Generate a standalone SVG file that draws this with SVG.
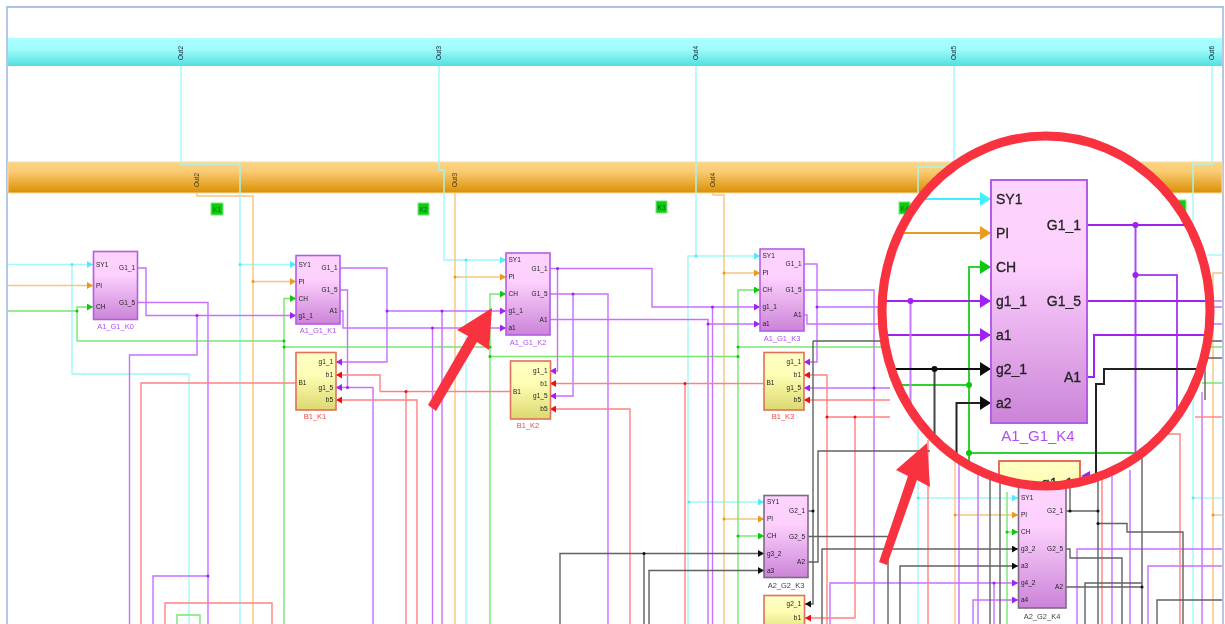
<svg xmlns="http://www.w3.org/2000/svg" width="1225" height="624" viewBox="0 0 1225 624">
<style>
text{font-family:"Liberation Sans",Arial,sans-serif;fill:#222}
#connectors path,.l{fill:none;stroke-width:1.4}
.c{stroke:#a0f8fa}.o{stroke:#f5c67e}.g{stroke:#78e670}.p{stroke:#c670ff}.r{stroke:#ff8282}.k{stroke:#626262}
.dc{fill:#50eaff}.do{fill:#e89a20}.dg{fill:#10c810}.dp{fill:#a020f0}.dr{fill:#f01010}.dk{fill:#111}
.box{fill:url(#pink);stroke:#b45ce6;stroke-width:1.6}
.box2{fill:url(#pink);stroke:#7d6a88;stroke-width:1.6}
.ybox{fill:url(#yel);stroke:#e2705c;stroke-width:1.6}
.t{font-size:6.500px}.e{font-size:6.500px;text-anchor:end}
.nl{font-size:7.500px;text-anchor:middle;fill:#b44cf0}.nr{font-size:7.500px;text-anchor:middle;fill:#f04848}.nk{font-size:7.500px;text-anchor:middle;fill:#444}
.out{font-size:6.500px;text-anchor:middle;fill:#123}
.badge{fill:#0ccc0c;stroke:#7fe87f;stroke-width:1}
.big{font-size:14px;fill:#222;stroke:#222;stroke-width:.3}.bige{font-size:14px;fill:#222;stroke:#222;stroke-width:.3;text-anchor:end}
.L{fill:none;stroke-width:2}
</style>
<defs>
<linearGradient id="cy" x1="0" y1="0" x2="0" y2="1"><stop offset="0" stop-color="#abffff"/><stop offset="0.4" stop-color="#a0fbfb"/><stop offset="1" stop-color="#54dedf"/></linearGradient>
<linearGradient id="or" x1="0" y1="0" x2="0" y2="1"><stop offset="0" stop-color="#fcd584"/><stop offset="0.3" stop-color="#fbcb74"/><stop offset="1" stop-color="#d98f02"/></linearGradient>
<linearGradient id="pink" x1="0" y1="0" x2="0" y2="1"><stop offset="0" stop-color="#fdd4fd"/><stop offset="0.35" stop-color="#fdd0fd"/><stop offset="1" stop-color="#cb84d8"/></linearGradient>
<linearGradient id="yel" x1="0" y1="0" x2="0" y2="1"><stop offset="0" stop-color="#ffffc4"/><stop offset="0.4" stop-color="#fdfdb4"/><stop offset="1" stop-color="#dcd870"/></linearGradient>
<filter id="soft" x="-2%" y="-2%" width="104%" height="104%"><feGaussianBlur stdDeviation="0.55"/></filter>
<clipPath id="lens"><ellipse cx="1046" cy="311" rx="164" ry="175"/></clipPath>
<marker id="ac" markerUnits="userSpaceOnUse" markerWidth="7" markerHeight="7" refX="6" refY="3.5" orient="auto"><path d="M0 0L6 3.5L0 7Z" class="dc"/></marker>
<marker id="ao" markerUnits="userSpaceOnUse" markerWidth="7" markerHeight="7" refX="6" refY="3.5" orient="auto"><path d="M0 0L6 3.5L0 7Z" class="do"/></marker>
<marker id="ag" markerUnits="userSpaceOnUse" markerWidth="7" markerHeight="7" refX="6" refY="3.5" orient="auto"><path d="M0 0L6 3.5L0 7Z" class="dg"/></marker>
<marker id="ap" markerUnits="userSpaceOnUse" markerWidth="7" markerHeight="7" refX="6" refY="3.5" orient="auto"><path d="M0 0L6 3.5L0 7Z" class="dp"/></marker>
<marker id="ar" markerUnits="userSpaceOnUse" markerWidth="7" markerHeight="7" refX="6" refY="3.5" orient="auto"><path d="M0 0L6 3.5L0 7Z" class="dr"/></marker>
<marker id="ak" markerUnits="userSpaceOnUse" markerWidth="7" markerHeight="7" refX="6" refY="3.5" orient="auto"><path d="M0 0L6 3.5L0 7Z" class="dk"/></marker>
<marker id="Ac" markerUnits="userSpaceOnUse" markerWidth="12" markerHeight="14" refX="11" refY="7" orient="auto"><path d="M0 0L11 7L0 14Z" fill="#40f0ff"/></marker>
<marker id="Ao" markerUnits="userSpaceOnUse" markerWidth="12" markerHeight="14" refX="11" refY="7" orient="auto"><path d="M0 0L11 7L0 14Z" fill="#e89a20"/></marker>
<marker id="Ag" markerUnits="userSpaceOnUse" markerWidth="12" markerHeight="14" refX="11" refY="7" orient="auto"><path d="M0 0L11 7L0 14Z" fill="#10c810"/></marker>
<marker id="Ap" markerUnits="userSpaceOnUse" markerWidth="12" markerHeight="14" refX="11" refY="7" orient="auto"><path d="M0 0L11 7L0 14Z" fill="#a020f0"/></marker>
<marker id="Ak" markerUnits="userSpaceOnUse" markerWidth="12" markerHeight="14" refX="11" refY="7" orient="auto"><path d="M0 0L11 7L0 14Z" fill="#111"/></marker>
</defs>
<rect width="1225" height="624" fill="#fff"/>
<g filter="url(#soft)">
<g id="frame">
<path d="M7 624V7H1223V624" fill="none" stroke="#a9c3e4" stroke-width="1.8"/>
</g>
<g id="bus-cyan">
<rect x="8" y="38" width="1214" height="28" fill="url(#cy)"/>
</g>
<g id="bus-orange">
<rect x="8" y="162" width="1214" height="31" fill="url(#or)" stroke="#f8dca8" stroke-width="1"/>
</g>
<g id="connectors">
<path class="c" d="M181 66V164H240V624"/>
<path class="c" d="M439 66V170H444V260H466"/>
<path class="c" d="M466 260V624"/>
<path class="c" d="M696 66V256H688V624"/>
<path class="c" d="M954 66V170"/>
<path class="c" d="M945 167H918V624"/>
<path class="c" d="M1212 66V164H1193V624"/>
<path class="c" d="M1207 255H1222"/>
<path class="c" d="M72 264.500V374H189V624"/>
<path class="c" d="M8 264.500H93" marker-end="url(#ac)"/>
<path class="c" d="M240 264.500H296" marker-end="url(#ac)"/>
<path class="c" d="M466 260H506" marker-end="url(#ac)"/>
<path class="c" d="M696 256H760" marker-end="url(#ac)"/>
<path class="c" d="M689 502H764" marker-end="url(#ac)"/>
<path class="c" d="M918 498H1018" marker-end="url(#ac)"/>
<path class="c" d="M1193 498H1222"/>
<path class="o" d="M197 193V196H253V624"/>
<path class="o" d="M455 193V624"/>
<path class="o" d="M713 193V195H724V624"/>
<path class="o" d="M955 440V624"/>
<path class="o" d="M1222 273H1213V624"/>
<path class="o" d="M8 285.500H93" marker-end="url(#ao)"/>
<path class="o" d="M253 281.500H296" marker-end="url(#ao)"/>
<path class="o" d="M455 277H506" marker-end="url(#ao)"/>
<path class="o" d="M724 273H760" marker-end="url(#ao)"/>
<path class="o" d="M724 519H764" marker-end="url(#ao)"/>
<path class="o" d="M955 515H1018" marker-end="url(#ao)"/>
<path class="o" d="M1213 515H1222"/>
<path class="g" d="M8 311H77"/>
<path class="g" d="M77 341V307H93" marker-end="url(#ag)"/>
<path class="g" d="M77 341H284"/>
<path class="g" d="M284 624V298.500H296" marker-end="url(#ag)"/>
<path class="g" d="M284 347H490"/>
<path class="g" d="M490 624V294H506" marker-end="url(#ag)"/>
<path class="g" d="M490 356.500H738"/>
<path class="g" d="M738 624V290H760" marker-end="url(#ag)"/>
<path class="g" d="M738 347H890"/>
<path class="g" d="M1200 347H1222M1202 383H1222"/>
<path class="g" d="M738 536H764" marker-end="url(#ag)"/>
<path class="g" d="M1007 492V624"/>
<path class="g" d="M1007 532H1018" marker-end="url(#ag)"/>
<path class="g" d="M177 624V615H200V624"/>
<path class="p" d="M137.500 268H146V315.500H296" marker-end="url(#ap)"/>
<path class="p" d="M197 315.500V355H129.500V624"/>
<path class="p" d="M137.500 302.500H208V624"/>
<path class="p" d="M208 576H153V624"/>
<path class="p" d="M340 268H387V362H336" marker-end="url(#ap)"/>
<path class="p" d="M387 311H506" marker-end="url(#ap)"/>
<path class="p" d="M442 311V624"/>
<path class="p" d="M340 290H347.500V387.500H336" marker-end="url(#ap)"/>
<path class="p" d="M347.500 387.500H373V624"/>
<path class="p" d="M340 311H343V328H506" marker-end="url(#ap)"/>
<path class="p" d="M432.500 328V624"/>
<path class="p" d="M550 268.500H652V307H760" marker-end="url(#ap)"/>
<path class="p" d="M557.500 268.500V371H550" marker-end="url(#ap)"/>
<path class="p" d="M712.500 307V624"/>
<path class="p" d="M550 294H608V624"/>
<path class="p" d="M573 294V396H550" marker-end="url(#ap)"/>
<path class="p" d="M550 319.500H708V624"/>
<path class="p" d="M708 324H760" marker-end="url(#ap)"/>
<path class="p" d="M804 264H817V362H804" marker-end="url(#ap)"/>
<path class="p" d="M817 307H890"/>
<path class="p" d="M804 290H874V624"/>
<path class="p" d="M804 315H807V324H890"/>
<path class="p" d="M890 388H804" marker-end="url(#ap)"/>
<path class="p" d="M1200 301H1222M1200 307H1222M1200 324H1222"/>
<path class="p" d="M1202 392V624"/>
<path class="p" d="M830 624V583H1018" marker-end="url(#ap)"/>
<path class="p" d="M973 624V600H1018" marker-end="url(#ap)"/>
<path class="p" d="M994 583V624"/>
<path class="p" d="M959 440V624M978 440V624M1112 470V624M1130 470V624"/>
<path class="p" d="M1077 624V549H1222M1148 624V566H1222"/>
<path class="r" d="M296 383H141V624"/>
<path class="r" d="M380 391.500H510"/>
<path class="r" d="M380 391.500V375H336" marker-end="url(#ar)"/>
<path class="r" d="M406 391.500V624"/>
<path class="r" d="M417 624V400H336" marker-end="url(#ar)"/>
<path class="r" d="M764 383.500H550" marker-end="url(#ar)"/>
<path class="r" d="M685 383.500V624"/>
<path class="r" d="M630 624V409H550" marker-end="url(#ar)"/>
<path class="r" d="M827 624V375H804" marker-end="url(#ar)"/>
<path class="r" d="M827 417H890"/>
<path class="r" d="M855 417V618H805" marker-end="url(#ar)"/>
<path class="r" d="M890 400H804" marker-end="url(#ar)"/>
<path class="r" d="M1195 417H1222"/>
<path class="r" d="M928 440V624M1102 470V624"/>
<path class="r" d="M1150 434H1180V624"/>
<path class="r" d="M165 624V603H272V624"/>
<path class="k" d="M813 341H890M1205 341H1222M1205 358H1222"/>
<path class="k" d="M813 341V604H805" marker-end="url(#ak)"/>
<path class="k" d="M808 511H813"/>
<path class="k" d="M930 451H818V562H808"/>
<path class="k" d="M808 536.500H888V624"/>
<path class="k" d="M560 624V553.500H764" marker-end="url(#ak)"/>
<path class="k" d="M644 553.500V624"/>
<path class="k" d="M649 624V570.500H764" marker-end="url(#ak)"/>
<path class="k" d="M822 624V549H1018" marker-end="url(#ak)"/>
<path class="k" d="M900 624V566H1018" marker-end="url(#ak)"/>
<path class="k" d="M990 470V624M1000 470V624"/>
<path class="k" d="M1066 511H1098V624"/>
<path class="k" d="M1098 470V511"/>
<path class="k" d="M1070 480V511"/>
<path class="k" d="M1098 523.500H1127V532H1183V624"/>
<path class="k" d="M1066 549H1070V558H1122V624"/>
<path class="k" d="M1066 587H1142"/>
<path class="k" d="M1085 624V583H1142"/>
<path class="k" d="M1142 453V624"/>
<path class="k" d="M1157 624V600H1222"/>
<path class="k" d="M1205 358V400"/>
<g class="dc"><circle cx="72" cy="264.500" r="1.500"/><circle cx="240" cy="264.500" r="1.500"/><circle cx="466" cy="260" r="1.500"/><circle cx="696" cy="256" r="1.500"/><circle cx="689" cy="502" r="1.500"/><circle cx="918" cy="498" r="1.500"/><circle cx="1193" cy="498" r="1.500"/></g>
<g class="do"><circle cx="253" cy="281.500" r="1.500"/><circle cx="455" cy="277" r="1.500"/><circle cx="724" cy="273" r="1.500"/><circle cx="724" cy="519" r="1.500"/><circle cx="955" cy="515" r="1.500"/><circle cx="1213" cy="515" r="1.500"/></g>
<g class="dg"><circle cx="77" cy="311" r="1.500"/><circle cx="284" cy="341" r="1.500"/><circle cx="284" cy="347" r="1.500"/><circle cx="490" cy="347" r="1.500"/><circle cx="490" cy="356.500" r="1.500"/><circle cx="738" cy="347" r="1.500"/><circle cx="738" cy="356.500" r="1.500"/><circle cx="738" cy="536" r="1.500"/><circle cx="1007" cy="532" r="1.500"/></g>
<g class="dp"><circle cx="197" cy="315.500" r="1.500"/><circle cx="208" cy="576" r="1.500"/><circle cx="387" cy="311" r="1.500"/><circle cx="442" cy="311" r="1.500"/><circle cx="347.500" cy="387.500" r="1.500"/><circle cx="432.500" cy="328" r="1.500"/><circle cx="557.500" cy="268.500" r="1.500"/><circle cx="573" cy="294" r="1.500"/><circle cx="712.500" cy="307" r="1.500"/><circle cx="708" cy="324" r="1.500"/><circle cx="817" cy="307" r="1.500"/><circle cx="874" cy="388" r="1.500"/><circle cx="994" cy="583" r="1.500"/></g>
<g class="dr"><circle cx="406" cy="391.500" r="1.500"/><circle cx="685" cy="383.500" r="1.500"/><circle cx="827" cy="417" r="1.500"/><circle cx="855" cy="417" r="1.500"/></g>
<g class="dk"><circle cx="813" cy="511" r="1.500"/><circle cx="644" cy="553.500" r="1.500"/><circle cx="1070" cy="511" r="1.500"/><circle cx="1098" cy="511" r="1.500"/><circle cx="1098" cy="523.500" r="1.500"/><circle cx="1142" cy="587" r="1.500"/></g>
</g>
<g id="bus-labels">
<text class="out" transform="translate(183 53) rotate(-90)">Out2</text>
<text class="out" transform="translate(441 53) rotate(-90)">Out3</text>
<text class="out" transform="translate(698 53) rotate(-90)">Out4</text>
<text class="out" transform="translate(956 53) rotate(-90)">Out5</text>
<text class="out" transform="translate(1214 53) rotate(-90)">Out6</text>
<text class="out" transform="translate(199 180) rotate(-90)" style="fill:#431">Out2</text>
<text class="out" transform="translate(457 180) rotate(-90)" style="fill:#431">Out3</text>
<text class="out" transform="translate(715 180) rotate(-90)" style="fill:#431">Out4</text>
</g>
<g id="badge-K1"><rect class="badge" x="211" y="203" width="12" height="12"/><text class="e" x="221" y="212" style="fill:#063">K1</text></g>
<g id="badge-K2"><rect class="badge" x="418" y="203" width="11" height="12"/><text class="e" x="427.500" y="212" style="fill:#063">K2</text></g>
<g id="badge-K3"><rect class="badge" x="656" y="201" width="11" height="12"/><text class="e" x="665.500" y="210" style="fill:#063">K3</text></g>
<g id="badge-K4"><rect class="badge" x="899" y="202" width="11" height="12"/><text class="e" x="908.500" y="211" style="fill:#063">K4</text></g>
<g id="badge-K5"><rect class="badge" x="1175" y="200" width="11" height="12"/></g>

<g id="A1_G1_K0"><rect class="box" x="93.500" y="251.500" width="44" height="68"/>
<text class="t" x="96" y="266.500">SY1</text><text class="t" x="96" y="287.500">PI</text><text class="t" x="96" y="309">CH</text>
<text class="e" x="135" y="270">G1_1</text><text class="e" x="135" y="304.500">G1_5</text>
<text class="nl" x="115.500" y="329">A1_G1_K0</text></g>

<g id="A1_G1_K1"><rect class="box" x="296" y="255.500" width="44" height="68.500"/>
<text class="t" x="298.500" y="266.500">SY1</text><text class="t" x="298.500" y="283.500">PI</text><text class="t" x="298.500" y="300.500">CH</text><text class="t" x="298.500" y="317.500">g1_1</text>
<text class="e" x="337.500" y="270">G1_1</text><text class="e" x="337.500" y="292">G1_5</text><text class="e" x="337.500" y="313">A1</text>
<text class="nl" x="318" y="333">A1_G1_K1</text></g>

<g id="A1_G1_K2"><rect class="box" x="506" y="253" width="44" height="82"/>
<text class="t" x="508.500" y="262">SY1</text><text class="t" x="508.500" y="279">PI</text><text class="t" x="508.500" y="296">CH</text><text class="t" x="508.500" y="313">g1_1</text><text class="t" x="508.500" y="330">a1</text>
<text class="e" x="547.500" y="270.500">G1_1</text><text class="e" x="547.500" y="296">G1_5</text><text class="e" x="547.500" y="321.500">A1</text>
<text class="nl" x="528" y="345">A1_G1_K2</text></g>

<g id="A1_G1_K3"><rect class="box" x="760" y="249" width="44" height="82"/>
<text class="t" x="762.500" y="258">SY1</text><text class="t" x="762.500" y="275">PI</text><text class="t" x="762.500" y="292">CH</text><text class="t" x="762.500" y="309">g1_1</text><text class="t" x="762.500" y="326">a1</text>
<text class="e" x="801.500" y="266">G1_1</text><text class="e" x="801.500" y="292">G1_5</text><text class="e" x="801.500" y="317">A1</text>
<text class="nl" x="782" y="341">A1_G1_K3</text></g>

<g id="B1_K1"><rect class="ybox" x="296" y="352.500" width="40" height="57.500"/>
<text class="t" x="298.500" y="385">B1</text>
<text class="e" x="333" y="364">g1_1</text><text class="e" x="333" y="377">b1</text><text class="e" x="333" y="389.500">g1_5</text><text class="e" x="333" y="402">b5</text>
<text class="nr" x="315" y="419">B1_K1</text></g>

<g id="B1_K2"><rect class="ybox" x="510.500" y="361" width="40" height="58"/>
<text class="t" x="513" y="394">B1</text>
<text class="e" x="547.500" y="373">g1_1</text><text class="e" x="547.500" y="385.500">b1</text><text class="e" x="547.500" y="398">g1_5</text><text class="e" x="547.500" y="411">b5</text>
<text class="nr" x="528" y="428">B1_K2</text></g>

<g id="B1_K3"><rect class="ybox" x="764" y="352.500" width="40" height="57.500"/>
<text class="t" x="766.500" y="385">B1</text>
<text class="e" x="801" y="364">g1_1</text><text class="e" x="801" y="377">b1</text><text class="e" x="801" y="390">g1_5</text><text class="e" x="801" y="402">b5</text>
<text class="nr" x="783" y="419">B1_K3</text></g>

<g id="A2_G2_K3"><rect class="box2" x="764" y="495.500" width="44" height="82"/>
<text class="t" x="767" y="504">SY1</text><text class="t" x="767" y="521">PI</text><text class="t" x="767" y="538">CH</text><text class="t" x="767" y="555.500">g3_2</text><text class="t" x="767" y="572.500">a3</text>
<text class="e" x="805" y="513">G2_1</text><text class="e" x="805" y="538.500">G2_5</text><text class="e" x="805" y="564">A2</text>
<text class="nk" x="786" y="588">A2_G2_K3</text></g>

<g id="B2_K3"><rect class="ybox" x="764" y="595.500" width="40.500" height="40"/>
<text class="e" x="801" y="606">g2_1</text><text class="e" x="801" y="620">b1</text></g>

<g id="A2_G2_K4"><rect class="box2" x="1018.500" y="482" width="47.500" height="126"/>
<text class="t" x="1021" y="500">SY1</text><text class="t" x="1021" y="517">PI</text><text class="t" x="1021" y="534">CH</text><text class="t" x="1021" y="551">g3_2</text><text class="t" x="1021" y="568">a3</text><text class="t" x="1021" y="585">g4_2</text><text class="t" x="1021" y="602">a4</text>
<text class="e" x="1063" y="513">G2_1</text><text class="e" x="1063" y="551">G2_5</text><text class="e" x="1063" y="589">A2</text>
<text class="nk" x="1042" y="619">A2_G2_K4</text></g>

<g id="callout-arrow-1"><polygon points="492,308 489,350 477,342 436,411 428,405 468,336 457,330" fill="#f9303f"/></g>
<g id="callout-arrow-2"><polygon points="927,443 930,487 917,480 887,565 879,562 908,476 896,470" fill="#f9303f"/></g>

<g id="magnifier">
<ellipse cx="1046" cy="311" rx="164" ry="175" fill="#fff"/>
<g clip-path="url(#lens)">
<path class="L c" d="M880 199H991" style="stroke:#40f0ff" marker-end="url(#Ac)"/>
<path class="L o" d="M880 233H991" style="stroke:#e89a20" marker-end="url(#Ao)"/>
<path class="L g" d="M969 490V267H991" style="stroke:#30d030" marker-end="url(#Ag)"/>
<path class="L g" d="M880 385H969M969 453H1136" style="stroke:#30d030"/>
<path class="L p" d="M880 301H991" style="stroke:#a020f0" marker-end="url(#Ap)"/>
<path class="L p" d="M880 335H991" style="stroke:#a020f0" marker-end="url(#Ap)"/>
<path class="L p" d="M910.500 301V440" style="stroke:#c878ff"/>
<path class="L k" d="M880 369H991" style="stroke:#111" marker-end="url(#Ak)"/>
<path class="L k" d="M934.500 369V460" style="stroke:#444"/>
<path class="L k" d="M880 451H934" style="stroke:#777"/>
<path class="L k" d="M956.500 490V403H991" style="stroke:#222" marker-end="url(#Ak)"/>
<path class="L p" d="M1087 225H1215" style="stroke:#a020f0"/>
<path class="L p" d="M1135.500 225V453" style="stroke:#a84cf0"/>
<path class="L p" d="M1135.500 275H1177V470" style="stroke:#a84cf0"/>
<path class="L p" d="M1087 301H1215" style="stroke:#a020f0"/>
<path class="L p" d="M1087 377H1094V335H1215" style="stroke:#a020f0"/>
<path class="L k" d="M1096 490V384H1104V369H1215" style="stroke:#222"/>
<path class="L k" d="M1142 453V490" style="stroke:#666"/>
<circle cx="910.500" cy="301" r="3" class="dp"/><circle cx="934.500" cy="369" r="3" class="dk"/><circle cx="969" cy="385" r="3" class="dg"/><circle cx="969" cy="453" r="3" class="dg"/><circle cx="1135.500" cy="225" r="3" class="dp"/><circle cx="1135.500" cy="275" r="3" class="dp"/>
<g id="A1_G1_K4"><rect class="box" x="991" y="180" width="96" height="243" style="stroke-width:2"/>
<text class="big" x="996" y="204">SY1</text><text class="big" x="996" y="238">PI</text><text class="big" x="996" y="272">CH</text><text class="big" x="996" y="306">g1_1</text><text class="big" x="996" y="340">a1</text><text class="big" x="996" y="374">g2_1</text><text class="big" x="996" y="408">a2</text>
<text class="bige" x="1081" y="230">G1_1</text><text class="bige" x="1081" y="306">G1_5</text><text class="bige" x="1081" y="382">A1</text>
<text x="1038" y="441" style="font-size:15px;text-anchor:middle;fill:#b44cf0">A1_G1_K4</text></g>
<g id="B1_K4"><rect class="ybox" x="999" y="461" width="81" height="60" style="stroke-width:2"/>
<text class="bige" x="1073" y="488">g1_1</text></g>
<polygon points="1081,476 1090,471 1090,481" class="dp"/>
</g>
<ellipse cx="1046" cy="311" rx="164" ry="175" fill="none" stroke="#f9303f" stroke-width="9"/>
</g>
</g>
</svg>
